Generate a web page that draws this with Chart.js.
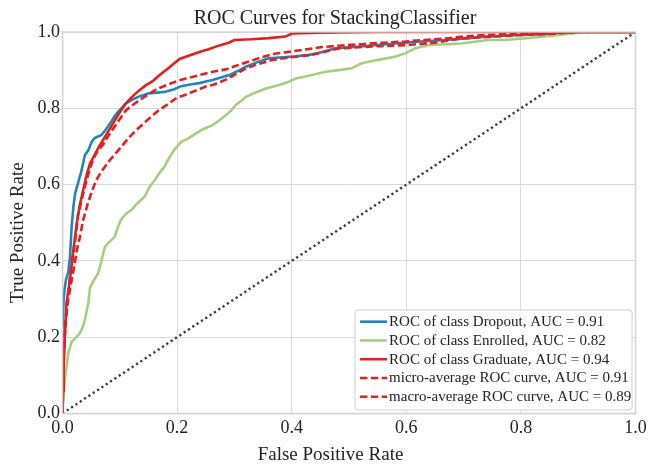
<!DOCTYPE html>
<html>
<head>
<meta charset="utf-8">
<script src="https://cdn.jsdelivr.net/npm/chart.js@4.4.1/dist/chart.umd.min.js"></script>
<style>
html,body{margin:0;padding:0;background:#ffffff;}
#wrap{width:651px;height:468px;position:relative;}
</style>
</head>
<body>
<div id="wrap"><canvas id="c" width="651" height="468"></canvas></div>
<script>
// ---------- data ----------
const chartTitle = 'ROC Curves for StackingClassifier';
const xAxisTitle = 'False Positive Rate';
const yAxisTitle = 'True Positive Rate';
const tickValues = [0.0, 0.2, 0.4, 0.6, 0.8, 1.0];

const classNames = ['Dropout', 'Enrolled', 'Graduate'];
const classAuc = [0.91, 0.82, 0.94];
const microAuc = 0.91;
const macroAuc = 0.89;

const dropoutFpr = [0, 0, 0.002, 0.004, 0.006, 0.010, 0.013, 0.016, 0.019, 0.022, 0.027, 0.032, 0.036, 0.039, 0.045, 0.051, 0.056, 0.062, 0.068, 0.076, 0.085, 0.091, 0.097, 0.104, 0.111, 0.121, 0.132, 0.149, 0.165, 0.178, 0.195, 0.207, 0.225, 0.239, 0.250, 0.262, 0.275, 0.291, 0.305, 0.320, 0.340, 0.360, 0.385, 0.407, 0.430, 0.447, 0.476, 0.520, 0.580, 0.625, 0.667, 0.710, 0.742, 0.800, 0.850, 0.887, 0.905, 1.0];
const dropoutTpr = [0, 0.22, 0.30, 0.33, 0.35, 0.37, 0.41, 0.49, 0.542, 0.577, 0.603, 0.630, 0.656, 0.677, 0.690, 0.712, 0.722, 0.726, 0.730, 0.745, 0.765, 0.779, 0.791, 0.802, 0.813, 0.822, 0.830, 0.839, 0.841, 0.843, 0.850, 0.858, 0.863, 0.866, 0.870, 0.874, 0.880, 0.887, 0.897, 0.909, 0.921, 0.931, 0.934, 0.936, 0.940, 0.945, 0.957, 0.962, 0.970, 0.975, 0.979, 0.984, 0.988, 0.992, 0.995, 0.997, 1.0, 1.0];

const enrolledFpr = [0, 0.001, 0.004, 0.007, 0.010, 0.016, 0.022, 0.030, 0.035, 0.039, 0.045, 0.048, 0.055, 0.062, 0.068, 0.074, 0.082, 0.091, 0.097, 0.103, 0.112, 0.120, 0.130, 0.143, 0.152, 0.161, 0.170, 0.178, 0.186, 0.195, 0.207, 0.218, 0.233, 0.245, 0.262, 0.275, 0.285, 0.295, 0.302, 0.312, 0.320, 0.338, 0.355, 0.378, 0.392, 0.407, 0.420, 0.435, 0.459, 0.482, 0.505, 0.522, 0.551, 0.580, 0.598, 0.615, 0.638, 0.670, 0.696, 0.742, 0.771, 0.810, 0.841, 0.881, 0.910, 1.0];
const enrolledTpr = [0, 0.027, 0.088, 0.120, 0.158, 0.188, 0.197, 0.210, 0.225, 0.245, 0.289, 0.330, 0.350, 0.367, 0.400, 0.437, 0.450, 0.463, 0.490, 0.510, 0.525, 0.533, 0.550, 0.568, 0.594, 0.612, 0.632, 0.647, 0.670, 0.691, 0.712, 0.720, 0.734, 0.745, 0.756, 0.770, 0.782, 0.795, 0.808, 0.820, 0.830, 0.842, 0.852, 0.861, 0.868, 0.878, 0.882, 0.887, 0.896, 0.900, 0.905, 0.918, 0.927, 0.935, 0.944, 0.957, 0.966, 0.968, 0.970, 0.979, 0.979, 0.984, 0.988, 0.995, 1.0, 1.0];

const graduateFpr = [0, 0.001, 0.002, 0.004, 0.007, 0.010, 0.013, 0.019, 0.025, 0.030, 0.036, 0.042, 0.048, 0.055, 0.062, 0.070, 0.080, 0.090, 0.100, 0.110, 0.120, 0.132, 0.145, 0.158, 0.170, 0.182, 0.195, 0.205, 0.220, 0.240, 0.255, 0.270, 0.290, 0.300, 0.330, 0.360, 0.389, 0.400, 0.450, 0.550, 1.0];
const graduateTpr = [0, 0.06, 0.12, 0.20, 0.29, 0.32, 0.35, 0.43, 0.50, 0.545, 0.585, 0.625, 0.655, 0.675, 0.695, 0.715, 0.740, 0.765, 0.790, 0.812, 0.828, 0.845, 0.860, 0.872, 0.888, 0.902, 0.918, 0.930, 0.938, 0.948, 0.955, 0.963, 0.972, 0.979, 0.981, 0.984, 0.988, 0.996, 0.998, 1.0, 1.0];

const microFpr = [0, 0.002, 0.005, 0.009, 0.013, 0.018, 0.022, 0.027, 0.032, 0.036, 0.045, 0.053, 0.060, 0.071, 0.080, 0.091, 0.100, 0.111, 0.122, 0.135, 0.150, 0.164, 0.182, 0.201, 0.220, 0.239, 0.262, 0.285, 0.300, 0.320, 0.340, 0.366, 0.390, 0.418, 0.450, 0.482, 0.522, 0.560, 0.598, 0.630, 0.667, 0.700, 0.736, 0.800, 0.850, 0.898, 1.0];
const microTpr = [0, 0.15, 0.24, 0.30, 0.36, 0.41, 0.45, 0.52, 0.55, 0.577, 0.628, 0.665, 0.685, 0.705, 0.728, 0.752, 0.772, 0.795, 0.808, 0.822, 0.837, 0.850, 0.861, 0.872, 0.880, 0.887, 0.896, 0.902, 0.910, 0.920, 0.930, 0.942, 0.947, 0.953, 0.960, 0.964, 0.968, 0.972, 0.975, 0.979, 0.983, 0.988, 0.992, 0.995, 0.997, 1.0, 1.0];

const macroFpr = [0, 0, 0.003, 0.006, 0.010, 0.016, 0.021, 0.025, 0.030, 0.036, 0.045, 0.052, 0.059, 0.066, 0.074, 0.083, 0.093, 0.103, 0.115, 0.129, 0.145, 0.160, 0.170, 0.185, 0.200, 0.210, 0.230, 0.250, 0.262, 0.285, 0.305, 0.320, 0.340, 0.366, 0.400, 0.435, 0.482, 0.540, 0.603, 0.650, 0.695, 0.750, 0.800, 0.850, 0.900, 1.0];
const macroTpr = [0, 0.10, 0.18, 0.25, 0.30, 0.35, 0.39, 0.428, 0.46, 0.507, 0.555, 0.585, 0.612, 0.630, 0.647, 0.665, 0.682, 0.700, 0.722, 0.743, 0.765, 0.785, 0.797, 0.812, 0.828, 0.833, 0.845, 0.857, 0.861, 0.875, 0.892, 0.905, 0.915, 0.927, 0.934, 0.940, 0.957, 0.962, 0.966, 0.972, 0.983, 0.988, 0.992, 0.995, 1.0, 1.0];

const chanceFpr = [0, 1];
const chanceTpr = [0, 1];

// ---------- helpers ----------
const pts = (xs, ys) => xs.map((x, i) => ({x: x, y: ys[i]}));
const SERIF = "'Liberation Serif', 'Times New Roman', 'DejaVu Serif', serif";
const BLUE = '#2385bc', GREEN = '#a3d07f', RED = '#e0211f';
const LW = 2.6;

const datasets = [
  {label: `ROC of class ${classNames[0]}, AUC = ${classAuc[0].toFixed(2)}`, data: pts(dropoutFpr, dropoutTpr), borderColor: BLUE, borderWidth: LW, inLegend: true},
  {label: `ROC of class ${classNames[1]}, AUC = ${classAuc[1].toFixed(2)}`, data: pts(enrolledFpr, enrolledTpr), borderColor: GREEN, borderWidth: LW, inLegend: true},
  {label: `ROC of class ${classNames[2]}, AUC = ${classAuc[2].toFixed(2)}`, data: pts(graduateFpr, graduateTpr), borderColor: RED, borderWidth: LW, inLegend: true},
  {label: `micro-average ROC curve, AUC = ${microAuc.toFixed(2)}`, data: pts(microFpr, microTpr), borderColor: RED, borderWidth: LW, borderDash: [7.4, 3.4], inLegend: true},
  {label: `macro-average ROC curve, AUC = ${macroAuc.toFixed(2)}`, data: pts(macroFpr, macroTpr), borderColor: RED, borderWidth: LW, borderDash: [7.4, 3.4], inLegend: true},
  {label: 'chance', data: pts(chanceFpr, chanceTpr), borderColor: '#3a3a3a', borderWidth: 2.4, borderDash: [2.2, 3], inLegend: false}
].map(d => Object.assign({showLine: true, pointRadius: 0, pointHoverRadius: 0, fill: false, tension: 0, clip: 0, backgroundColor: d.borderColor}, d));
datasets.reverse(); // draw chance line first, red curves on top

// spines over the curves + boxed legend inside the plot
const frameAndLegend = {
  id: 'frameAndLegend',
  afterDatasetsDraw(chart) {
    const {ctx, chartArea: ca} = chart;
    ctx.save();
    ctx.strokeStyle = '#d2d2d2';
    ctx.lineWidth = 1.4;
    ctx.strokeRect(ca.left, ca.top, ca.right - ca.left, ca.bottom - ca.top);

    const items = chart.data.datasets.filter(d => d.inLegend).slice().reverse();
    const bw = 277, bh = 100;
    const bx = ca.right - 3.5 - bw, by = ca.bottom - 3.5 - bh;
    ctx.beginPath();
    if (ctx.roundRect) ctx.roundRect(bx, by, bw, bh, 3); else ctx.rect(bx, by, bw, bh);
    ctx.fillStyle = '#ffffff';
    ctx.fill();
    ctx.strokeStyle = '#cfcfcf';
    ctx.lineWidth = 1;
    ctx.stroke();

    ctx.font = `15px ${SERIF}`;
    ctx.textBaseline = 'middle';
    ctx.textAlign = 'left';
    items.forEach((d, i) => {
      const y = by + 11.7 + i * 18.75;
      ctx.beginPath();
      ctx.setLineDash(d.borderDash || []);
      ctx.strokeStyle = d.borderColor;
      ctx.lineWidth = d.borderWidth;
      ctx.moveTo(bx + 5, y);
      ctx.lineTo(bx + 32, y);
      ctx.stroke();
      ctx.setLineDash([]);
      ctx.fillStyle = '#222222';
      ctx.fillText(d.label, bx + 34, y + 0.5);
    });
    ctx.restore();
  }
};

// nudge title / axis titles to where the reference puts them
const titleNudge = {
  id: 'titleNudge',
  afterLayout(chart) {
    const tb = chart.titleBlock;
    if (tb) {
      const w = tb.right - tb.left, c = 335;
      tb.left = c - w / 2; tb.right = c + w / 2;
    }
    [['x', -18.5, 0], ['y', 0, 10]].forEach(([id, dx, dy]) => {
      const s = chart.scales[id];
      if (s && !s._nudged) {
        const orig = s.drawTitle;
        s.drawTitle = function () {
          this.ctx.save(); this.ctx.translate(dx, dy); orig.call(this); this.ctx.restore();
        };
        s._nudged = true;
      }
    });
  }
};

new Chart(document.getElementById('c'), {
  type: 'scatter',
  data: {datasets},
  plugins: [titleNudge, frameAndLegend],
  options: {
    responsive: false,
    animation: false,
    events: [],
    layout: {padding: {left: 0, right: 12.5, top: 0, bottom: 0}},
    plugins: {
      legend: {display: false},
      tooltip: {enabled: false},
      title: {
        display: true, text: chartTitle, color: '#222222',
        font: {family: SERIF, size: 20, weight: 'normal'},
        padding: {top: 6.3, bottom: 1.7}
      }
    },
    scales: {
      x: {
        type: 'linear', min: 0, max: 1,
        afterBuildTicks: s => { s.ticks = tickValues.map(v => ({value: v})); },
        afterFit: s => { s.height = 54.5; },
        grid: {color: '#d9d9d9', lineWidth: 1, drawTicks: false},
        border: {color: '#d2d2d2', width: 1.2},
        ticks: {color: '#222222', padding: 4.2, maxRotation: 0, font: {family: SERIF, size: 18}, callback: v => Number(v).toFixed(1)},
        title: {display: true, text: xAxisTitle, color: '#222222', font: {family: SERIF, size: 19}, padding: {top: 0, bottom: 1.6}}
      },
      y: {
        type: 'linear', min: 0, max: 1,
        afterBuildTicks: s => { s.ticks = tickValues.map(v => ({value: v})); },
        afterFit: s => { s.width = 62.5; },
        grid: {color: '#d9d9d9', lineWidth: 1, drawTicks: false},
        border: {color: '#d2d2d2', width: 1.2},
        ticks: {color: '#222222', padding: 2.5, font: {family: SERIF, size: 18}, callback: v => Number(v).toFixed(1)},
        title: {display: true, text: yAxisTitle, color: '#222222', font: {family: SERIF, size: 19}, padding: {top: 7, bottom: 0}}
      }
    }
  }
});
</script>
</body>
</html>
